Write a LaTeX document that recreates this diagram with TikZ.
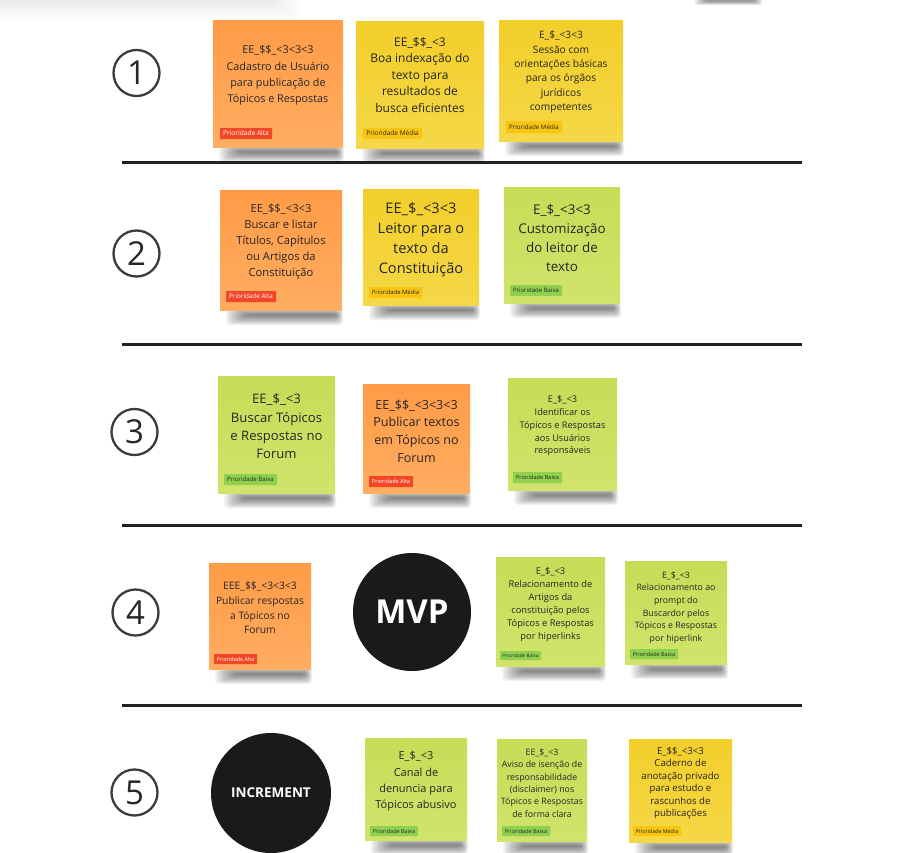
\documentclass[tikz,border=0pt]{standalone}
\usepackage{fontspec}
\setmainfont{Open Sans}

\definecolor{stickyOrange}{HTML}{FF9B46}
\definecolor{stickyOrangeLow}{HTML}{FFAD62}
\definecolor{stickyYellow}{HTML}{F2CE29}
\definecolor{stickyYellowLow}{HTML}{F5D848}
\definecolor{stickyGreen}{HTML}{C7DC56}
\definecolor{stickyGreenLow}{HTML}{D0E46C}
\definecolor{tagRed}{HTML}{F24726}
\definecolor{tagYellow}{HTML}{F8C612}
\definecolor{tagGreen}{HTML}{8FD14F}
\definecolor{ink}{HTML}{262626}
\definecolor{ruleInk}{HTML}{222222}
\definecolor{discInk}{HTML}{1A1A1A}

\tikzset{
  shadowlayer/.style={fill=black, opacity=0.05, rounded corners=4pt},
  sticky/.style={inner sep=0pt, draw=none, rectangle},
  notetext/.style={align=center, text=ink, inner sep=0pt},
  tag/.style={inner sep=0pt, rectangle, rounded corners=0.6pt},
  tagalta/.style={fill=tagRed, text=white},
  tagmedia/.style={fill=tagYellow, text=ink},
  tagbaixa/.style={fill=tagGreen, text=ink},
  divider/.style={draw=ruleInk, line width=3pt},
  numring/.style={circle, draw=ink!90, line width=2.3pt, minimum size=46pt,
      inner sep=0pt, text=ink, font=\fontsize{33}{33}\selectfont},
  disc/.style={circle, fill=discInk, inner sep=0pt, text=white},
}

% sticky note: name, x1, y1, x2, y2, base colour
% the soft shadow under the bottom edge is built from stacked translucent layers
\newcommand\sticky[6]{%
  \foreach \k in {0,...,10}{%
    \fill[shadowlayer] ({#2+6+2*\k},{#5-2+0.6*\k}) rectangle ({#4+1-0.7*\k},{#5+15-0.9*\k});
  }
  \node[sticky, top color=#6, bottom color=#6Low,
        minimum width={(#4-#2)*1pt}, minimum height={(#5-#3)*1pt}]
        (#1) at ({(#2+#4)/2},{(#3+#5)/2}) {};
}
% priority tag: name, x1, y1, x2, y2, style, font size, label
\newcommand\ptag[8]{%
  \node[tag, #6, minimum width={(#4-#2)*1pt}, minimum height={(#5-#3)*1pt},
        font=\fontsize{#7}{#7}\selectfont]
        (#1) at ({(#2+#4)/2},{(#3+#5)/2}) {#8};
}

\begin{document}
\begin{tikzpicture}[x=1pt, y=-1pt]
\useasboundingbox[fill=white] (0,0) rectangle (908,852);

% shadows of objects above the top edge
\foreach \k in {0,...,9}{%
  \fill[black, opacity=0.009, rounded corners=6pt] (-20,-20) rectangle ({300-3*\k},{19-1.8*\k});
}
\foreach \k in {0,...,5}{%
  \fill[black, opacity=0.08, rounded corners=2pt] ({695+2*\k},-10) rectangle ({762-1.5*\k},{5-0.7*\k});
}

% row separators
\draw[divider] (122,162) -- (802,162);
\draw[divider] (122,344) -- (802,344);
\draw[divider] (122,525) -- (802,525);
\draw[divider] (122,705) -- (802,705);

% row numbers
\node[numring] (num1) at (136.5,73) {1};
\node[numring] (num2) at (136.5,253.5) {2};
\node[numring] (num3) at (134.5,432) {3};
\node[numring] (num4) at (135.5,612.5) {4};
\node[numring] (num5) at (134.5,792.5) {5};

% ---- row 1
\sticky{s11}{213}{20}{343}{147}{stickyOrange}
\node[notetext, font=\fontsize{10.8}{16.3}\selectfont] (t11) at (278,75.5)
  {EE\_\$\$\_<3<3<3\\Cadastro de Usuário\\para publicação de\\Tópicos e Respostas};
\ptag{p11}{220}{128}{272}{139}{tagalta}{6.6}{Prioridade Alta}

\sticky{s12}{356}{21}{484}{148}{stickyYellow}
\node[notetext, font=\fontsize{12}{16.5}\selectfont] (t12) at (420,75)
  {EE\_\$\$\_<3\\Boa indexação do\\texto para\\resultados de\\busca eficientes};
\ptag{p12}{363}{128}{422}{139}{tagmedia}{6.5}{Prioridade Média}

\sticky{s13}{499}{20}{623}{141}{stickyYellow}
\node[notetext, font=\fontsize{10.2}{14.4}\selectfont] (t13) at (561,72)
  {E\_\$\_<3<3\\Sessão com\\orientações básicas\\para os órgãos\\jurídicos\\competentes};
\ptag{p13}{506}{121}{562}{133}{tagmedia}{6.2}{Prioridade Média}

% ---- row 2
\sticky{s21}{220}{190}{342}{310}{stickyOrange}
\node[notetext, font=\fontsize{11.2}{16}\selectfont] (t21) at (281,242)
  {EE\_\$\$\_<3<3\\Buscar e listar\\Títulos, Capítulos\\ou Artigos da\\Constituição};
\ptag{p21}{226}{291}{276}{302}{tagalta}{6.3}{Prioridade Alta}

\sticky{s22}{363}{189}{479}{305}{stickyYellow}
\node[notetext, font=\fontsize{14.6}{20}\selectfont] (t22) at (421,239.5)
  {EE\_\$\_<3<3\\Leitor para o\\texto da\\Constituição};
\ptag{p22}{369}{287}{422}{298}{tagmedia}{5.9}{Prioridade Média}

\sticky{s23}{504}{187}{620}{303}{stickyGreen}
\node[notetext, font=\fontsize{13.4}{18.7}\selectfont] (t23) at (562,238)
  {E\_\$\_<3<3\\Customização\\do leitor de\\texto};
\ptag{p23}{510}{285}{562}{296}{tagbaixa}{6.0}{Prioridade Baixa}

% ---- row 3
\sticky{s31}{218}{376}{335}{493}{stickyGreen}
\node[notetext, font=\fontsize{13.1}{18.3}\selectfont] (t31) at (276.5,426.5)
  {EE\_\$\_<3\\Buscar Tópicos\\e Respostas no\\Forum};
\ptag{p31}{224}{474}{277}{485}{tagbaixa}{6.1}{Prioridade Baixa}

\sticky{s32}{363}{384}{470}{493}{stickyOrange}
\node[notetext, font=\fontsize{12.5}{17.7}\selectfont] (t32) at (416.5,431)
  {EE\_\$\$\_<3<3<3\\Publicar textos\\em Tópicos no\\Forum};
\ptag{p32}{369}{476}{413}{487}{tagalta}{5.5}{Prioridade Alta}

\sticky{s33}{508}{378}{617}{490}{stickyGreen}
\node[notetext, font=\fontsize{9.2}{12.8}\selectfont] (t33) at (562.5,426)
  {E\_\$\_<3\\Identificar os\\Tópicos e Respostas\\aos Usuários\\responsáveis};
\ptag{p33}{513}{472}{562}{483}{tagbaixa}{5.6}{Prioridade Baixa}

% ---- row 4
\sticky{s41}{209}{563}{311}{669}{stickyOrange}
\node[notetext, font=\fontsize{10.3}{14.7}\selectfont] (t41) at (260,608)
  {EEE\_\$\$\_<3<3<3\\Publicar respostas\\a Tópicos no\\Forum};
\ptag{p41}{214}{654}{257}{664}{tagalta}{5.4}{Prioridade Alta}

\node[disc, minimum size=118pt, font=\bfseries\fontsize{33}{33}\selectfont]
  (mvp) at (412,612) {MVP};

\sticky{s42}{496}{557}{605}{666}{stickyGreen}
\node[notetext, font=\fontsize{9.3}{13}\selectfont] (t42) at (550.5,604.5)
  {E\_\$\_<3\\Relacionamento de\\Artigos da\\constituição pelos\\Tópicos e Respostas\\por hiperlinks};
\ptag{p42}{500}{651}{541}{660}{tagbaixa}{4.7}{Prioridade Baixa}

\sticky{s43}{625}{561}{727}{664}{stickyGreen}
\node[notetext, font=\fontsize{8.8}{12.6}\selectfont] (t43) at (676,607.5)
  {E\_\$\_<3\\Relacionamento ao\\prompt do\\Buscardor pelos\\Tópicos e Respostas\\por hiperlink};
\ptag{p43}{630}{649}{678}{659}{tagbaixa}{5.5}{Prioridade Baixa}

% ---- row 5
\node[disc, minimum size=120pt, font=\bfseries\fontsize{13.5}{13.5}\selectfont]
  (incr) at (271,793) {INCREMENT};

\sticky{s51}{365}{738}{467}{840}{stickyGreen}
\node[notetext, font=\fontsize{11}{16.3}\selectfont] (t51) at (416,781.5)
  {E\_\$\_<3\\Canal de\\denuncia para\\Tópicos abusivo};
\ptag{p51}{370}{826}{418}{836}{tagbaixa}{5.5}{Prioridade Baixa}

\sticky{s52}{497}{739}{587}{841}{stickyGreen}
\node[notetext, font=\fontsize{8.8}{12.4}\selectfont] (t52) at (542,783)
  {EE\_\$\_<3\\Aviso de isenção de\\responsabilidade\\(disclaimer) nos\\Tópicos e Respostas\\de forma clara};
\ptag{p52}{502}{826}{550}{836}{tagbaixa}{5.5}{Prioridade Baixa}

\sticky{s53}{629}{739}{732}{842}{stickyYellow}
\node[notetext, font=\fontsize{9.6}{12.4}\selectfont] (t53) at (680.5,783)
  {E\_\$\$\_<3<3\\Caderno de\\anotação privado\\para estudo e\\rascunhos de\\publicações};
\ptag{p53}{633}{826}{681}{836}{tagmedia}{5.3}{Prioridade Média}

\end{tikzpicture}
\end{document}
